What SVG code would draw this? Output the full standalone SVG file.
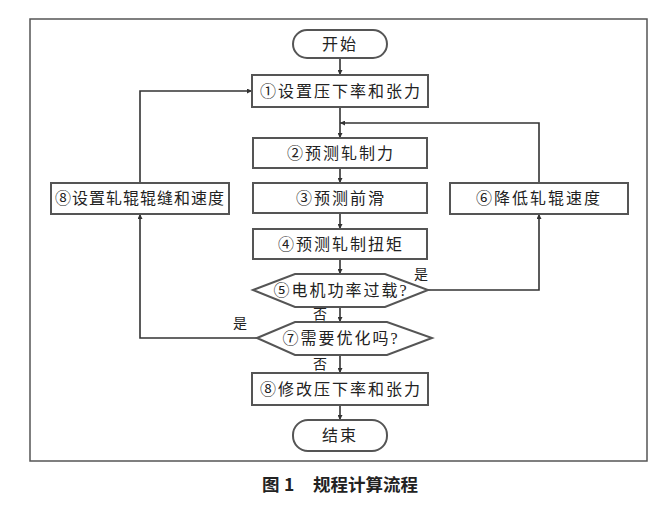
<svg xmlns="http://www.w3.org/2000/svg" width="667" height="507" viewBox="0 0 667 507">
<style>
.box{fill:#fff;stroke:#555;stroke-width:2}
.ln{fill:none;stroke:#333;stroke-width:1.6}
.t{font-family:"Liberation Serif","Noto Sans CJK SC",serif;font-size:16px;fill:#222;text-anchor:middle;dominant-baseline:central;letter-spacing:2px}
.lb{font-family:"Liberation Serif","Noto Sans CJK SC",serif;font-size:14px;fill:#222;text-anchor:middle;dominant-baseline:central}
.cap{font-family:"Noto Sans CJK SC",sans-serif;font-size:17.5px;font-weight:bold;fill:#222}
</style>
<defs>
<marker id="ar" viewBox="0 0 6 6" refX="6" refY="3" markerWidth="5" markerHeight="5" orient="auto" markerUnits="userSpaceOnUse">
<path d="M0,0 L6,3 L0,6 z" fill="#333"/>
</marker>
</defs>
<rect x="30" y="19" width="617" height="442" fill="#fff" stroke="#555" stroke-width="1.5"/>
<g id="connectors">
<path class="ln" d="M340,58 V75" marker-end="url(#ar)"/>
<path class="ln" d="M340,107 V138" marker-end="url(#ar)"/>
<path class="ln" d="M340,168 V183" marker-end="url(#ar)"/>
<path class="ln" d="M340,213 V229" marker-end="url(#ar)"/>
<path class="ln" d="M340,259 V274" marker-end="url(#ar)"/>
<path class="ln" d="M340,307 V322" marker-end="url(#ar)"/>
<path class="ln" d="M340,355 V373" marker-end="url(#ar)"/>
<path class="ln" d="M340,405 V420" marker-end="url(#ar)"/>
<path class="ln" d="M428,290 H539 V214" marker-end="url(#ar)"/>
<path class="ln" d="M539,183 V123 H340" marker-end="url(#ar)"/>
<path class="ln" d="M257,338 H140 V214" marker-end="url(#ar)"/>
<path class="ln" d="M140,183 V91 H252" marker-end="url(#ar)"/>
<text class="lb" x="421" y="274">是</text>
<text class="lb" x="320" y="314">否</text>
<text class="lb" x="240" y="323">是</text>
<text class="lb" x="320" y="364">否</text>
</g>
<g id="start"><rect class="box" x="293" y="30" width="94" height="28" rx="14"/><text class="t" x="340" y="44">开始</text></g>
<g id="n1"><rect class="box" x="252" y="75" width="176" height="32"/><text class="t" x="341" y="91">①设置压下率和张力</text></g>
<g id="n2"><rect class="box" x="253" y="138" width="174" height="30"/><text class="t" x="341" y="153">②预测轧制力</text></g>
<g id="n3"><rect class="box" x="253" y="183" width="174" height="30"/><text class="t" x="341" y="198">③预测前滑</text></g>
<g id="n4"><rect class="box" x="253" y="229" width="174" height="30"/><text class="t" x="341" y="244">④预测轧制扭矩</text></g>
<g id="n5"><polygon class="box" points="253,290 295,274 385,274 428,290 385,307 295,307"/><text class="t" x="341" y="290">⑤电机功率过载?</text></g>
<g id="n7"><polygon class="box" points="257,338 295,322 387,322 432,338 387,355 295,355"/><text class="t" x="341" y="338">⑦需要优化吗?</text></g>
<g id="n8"><rect class="box" x="252" y="373" width="176" height="32"/><text class="t" x="341" y="389">⑧修改压下率和张力</text></g>
<g id="end"><rect class="box" x="293" y="420" width="94" height="31" rx="15"/><text class="t" x="340" y="435.5">结束</text></g>
<g id="n6"><rect class="box" x="450" y="183" width="178" height="31"/><text class="t" x="539" y="198.5">⑥降低轧辊速度</text></g>
<g id="n8b"><rect class="box" x="51" y="183" width="178" height="31"/><text class="t" x="140" y="198.5" style="letter-spacing:1px">⑧设置轧辊辊缝和速度</text></g>
<text class="cap" y="491"><tspan x="262">图</tspan><tspan x="284">1</tspan><tspan x="313">规程计算流程</tspan></text>
</svg>
